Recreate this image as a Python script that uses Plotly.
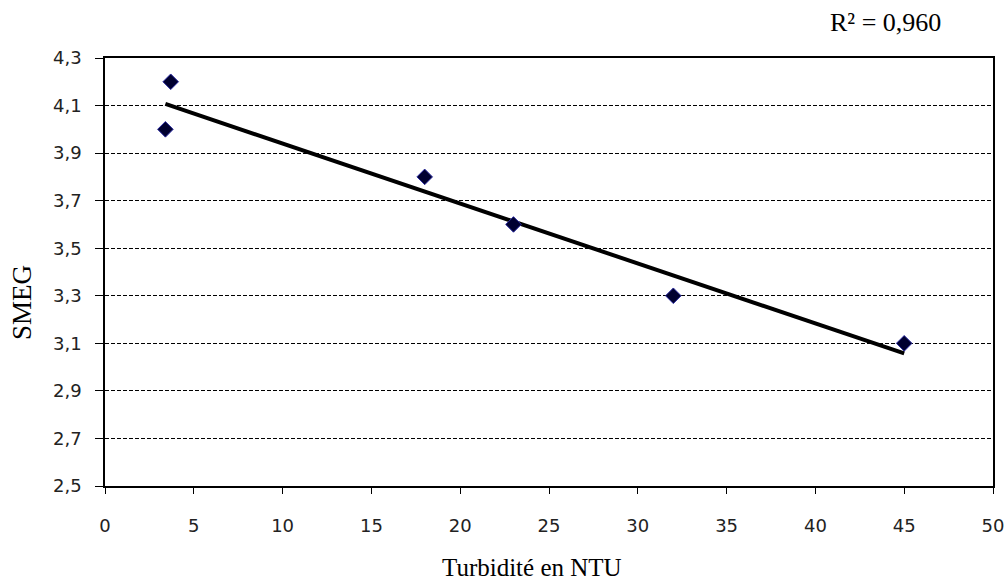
import numpy as np
import plotly.graph_objects as go

turbidity = [3.4, 3.7, 18, 23, 32, 45]
smeg = [4.0, 4.2, 3.8, 3.6, 3.3, 3.1]
x_ticks = [0, 5, 10, 15, 20, 25, 30, 35, 40, 45, 50]
y_ticks = [2.5, 2.7, 2.9, 3.1, 3.3, 3.5, 3.7, 3.9, 4.1, 4.3]
r2_label = "R² = 0,960"
x_title = "Turbidité en NTU"
y_title = "SMEG"

slope, intercept = np.polyfit(turbidity, smeg, 1)
xf = np.array([min(turbidity), max(turbidity)])
yf = slope * xf + intercept

fig = go.Figure()
fig.add_trace(go.Scatter(x=xf, y=yf, mode="lines",
                         line=dict(color="black", width=4), hoverinfo="skip"))
fig.add_trace(go.Scatter(x=turbidity, y=smeg, mode="markers",
                         marker=dict(symbol="diamond", size=12, color="#000030",
                                     line=dict(color="#2a2aa0", width=1))))

tickfont = dict(family="DejaVu Sans", size=18, color="#222222")
serif = "Liberation Serif"
fig.update_layout(
    width=1006, height=583,
    margin=dict(l=105, r=13, t=58, b=97),
    paper_bgcolor="white", plot_bgcolor="white",
    showlegend=False,
    separators=", ",
    xaxis=dict(range=[0, 50], tickvals=x_ticks, ticks="outside", ticklen=6,
               tickcolor="black", showgrid=False, zeroline=False, automargin=False,
               showline=True, linecolor="black", linewidth=1.5, mirror=True,
               tickfont=tickfont, ticklabelstandoff=17),
    yaxis=dict(range=[2.5, 4.3], tickvals=y_ticks, tickformat=".1f", ticks="outside",
               ticklen=8, tickcolor="black", showgrid=True, gridcolor="black",
               griddash="4px,2px", gridwidth=1, zeroline=False, automargin=False,
               showline=True, linecolor="black", linewidth=1.5, mirror=True,
               tickfont=tickfont, ticklabelstandoff=10),
    annotations=[
        dict(text=r2_label, xref="paper", yref="paper", x=885, y=22,
             xanchor="center", yanchor="middle", showarrow=False,
             font=dict(family=serif, size=26, color="black")),
        dict(text=x_title, xref="paper", yref="paper", x=532, y=567,
             xanchor="center", yanchor="middle", showarrow=False,
             font=dict(family=serif, size=25, color="black")),
        dict(text=y_title, xref="paper", yref="paper", x=22, y=303, textangle=-90,
             xanchor="center", yanchor="middle", showarrow=False,
             font=dict(family=serif, size=27, color="black")),
    ],
)
# convert pixel positions of the text annotations to paper coordinates
W, H = 1006, 583
L, R, T, B = 105, 13, 58, 97
pw, ph = W - L - R, H - T - B
for a in fig.layout.annotations:
    a.x = (a.x - L) / pw
    a.y = 1 - (a.y - T) / ph
fig.write_html("out.html", config={"displayModeBar": False},
               post_script="document.body.style.margin='0';document.body.style.overflow='hidden';")
